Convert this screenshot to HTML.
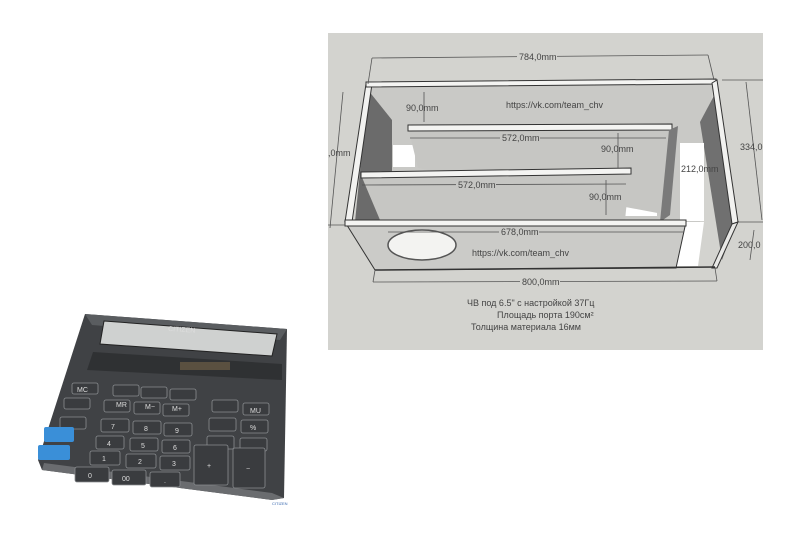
<!DOCTYPE html>
<html><head><style>
html,body{margin:0;padding:0;background:#fff;width:800px;height:533px;overflow:hidden}
svg{display:block}
text{font-family:"Liberation Sans","DejaVu Sans",sans-serif}
</style></head><body>
<svg width="800" height="533" viewBox="0 0 800 533">
<rect x="328" y="33" width="435" height="317" fill="#d3d3cf"/>
<polygon points="368,86 713,83 700,222 355,222" fill="#c9c9c6"/>
<polygon points="368,90 392,120 392,222 355,222" fill="#6b6b6b"/>
<polygon points="700,122 716,92 736,222 722,260" fill="#707070"/>
<rect x="393" y="145" width="22" height="22" fill="#fff"/>
<rect x="625" y="180" width="32" height="36" fill="#fff"/>
<rect x="680" y="143" width="24" height="78" fill="#fff"/>
<polygon points="682,222 704,222 698,266 674,266" fill="#fff"/>
<polygon points="408,127 671,125 668,215 418,168" fill="#c6c6c3"/>
<polygon points="408,125 672,124 672,130 408,131" fill="#f4f4f2" stroke="#333" stroke-width="1"/>
<polygon points="669,130 678,126 670,215 660,222" fill="#7a7a7a"/>
<polygon points="361,175 630,172 625,220 380,220" fill="#c6c6c3"/>
<polygon points="361,172 631,168 631,174 361,178" fill="#f4f4f2" stroke="#333" stroke-width="1"/>
<polygon points="366,84 372,84 352,222 345,222" fill="#f2f2f0" stroke="#333" stroke-width="1"/>
<polygon points="366,82 716,79 716,84 366,87" fill="#f4f4f2" stroke="#333" stroke-width="1"/>
<polygon points="712,83 717,80 738,222 732,224" fill="#f2f2f0" stroke="#333" stroke-width="1"/>
<polygon points="732,224 738,222 717,268 712,268" fill="#e8e8e6" stroke="#333" stroke-width="1"/>
<polygon points="345,222 686,222 676,268 375,270" fill="#cbcbc8" stroke="#333" stroke-width="1"/>
<polygon points="345,220 686,220 686,226 345,226" fill="#f4f4f2" stroke="#333" stroke-width="1"/>
<line x1="375" y1="270" x2="715" y2="267" stroke="#333" stroke-width="1.5"/>
<ellipse cx="422" cy="245" rx="34" ry="15" fill="#f3f3f1" stroke="#555" stroke-width="1.5"/>
<g stroke="#555" stroke-width="0.8" fill="none">
<line x1="372" y1="58" x2="708" y2="55"/><line x1="372" y1="58" x2="368" y2="84"/><line x1="708" y1="55" x2="714" y2="80"/>
<line x1="373" y1="282" x2="717" y2="281"/><line x1="373" y1="282" x2="375" y2="270"/><line x1="717" y1="281" x2="715" y2="268"/>
<line x1="410" y1="138" x2="666" y2="138"/><line x1="362" y1="185" x2="626" y2="184"/>
<line x1="388" y1="232" x2="684" y2="232"/>
<line x1="343" y1="92" x2="330" y2="228"/><line x1="746" y1="82" x2="762" y2="220"/><line x1="754" y1="230" x2="750" y2="260"/>
<line x1="424" y1="92" x2="424" y2="122"/><line x1="618" y1="133" x2="618" y2="168"/><line x1="606" y1="180" x2="606" y2="215"/>
<line x1="722" y1="80" x2="763" y2="80"/><line x1="328" y1="225" x2="345" y2="225"/><line x1="738" y1="222" x2="763" y2="222"/>
</g>
<g font-size="9" fill="#444">
<rect x="517" y="52" width="40" height="10" fill="#d3d3cf"/><text x="519" y="60">784,0mm</text>
<rect x="520" y="277" width="40" height="10" fill="#d3d3cf"/><text x="522" y="285">800,0mm</text>
<rect x="500" y="133" width="40" height="10" fill="#c6c6c3"/><text x="502" y="141">572,0mm</text>
<rect x="456" y="180" width="40" height="10" fill="#c6c6c3"/><text x="458" y="188">572,0mm</text>
<rect x="499" y="227" width="40" height="10" fill="#cbcbc8"/><text x="501" y="235">678,0mm</text>
<text x="406" y="111">90,0mm</text>
<text x="601" y="152">90,0mm</text>
<text x="589" y="200">90,0mm</text>
<text x="506" y="108">https://vk.com/team_chv</text>
<text x="472" y="256">https://vk.com/team_chv</text>
<text x="681" y="172">212,0mm</text>
<text x="328" y="156">,0mm</text>
<text x="740" y="150">334,0</text>
<text x="738" y="248">200,0</text>
<text x="467" y="306">ЧВ под 6.5" с настройкой 37Гц</text>
<text x="497" y="318">Площадь порта 190см²</text>
<text x="471" y="330">Толщина материала 16мм</text>
</g>
<!-- calculator -->
<polygon points="85,314 287,329 284,498 272,500 42,470 38,460" fill="#404245"/>
<polygon points="42,470 272,500 284,498 272,493 44,463" fill="#6a6c6f"/>
<polygon points="85,314 287,329 280,340 92,325" fill="#5a5d60"/>
<polygon points="104,321 277,334 272,356 100,344" fill="#cfd1d0" stroke="#222"/>
<text x="168" y="331" font-size="7" fill="#ddd" transform="rotate(4 170 331)">CITIZEN</text>
<polygon points="93,352 282,364 282,380 87,370" fill="#2f3133"/>
<rect x="180" y="362" width="50" height="8" fill="#5a5040"/>
<g fill="#3a3c3f" stroke="#8a8d90" stroke-width="0.8">
<rect x="72" y="383" width="26" height="11" rx="2"/><rect x="113" y="385" width="26" height="11" rx="2"/><rect x="141" y="387" width="26" height="11" rx="2"/><rect x="170" y="389" width="26" height="11" rx="2"/>
<rect x="64" y="398" width="26" height="11" rx="2"/><rect x="104" y="400" width="26" height="12" rx="2"/><rect x="134" y="402" width="26" height="12" rx="2"/><rect x="163" y="404" width="26" height="12" rx="2"/><rect x="212" y="400" width="26" height="12" rx="2"/><rect x="243" y="403" width="26" height="12" rx="2"/>
<rect x="60" y="417" width="26" height="12" rx="2"/><rect x="101" y="419" width="28" height="13" rx="2"/><rect x="133" y="421" width="28" height="13" rx="2"/><rect x="164" y="423" width="28" height="13" rx="2"/><rect x="209" y="418" width="27" height="13" rx="2"/><rect x="241" y="420" width="27" height="13" rx="2"/>
<rect x="96" y="436" width="28" height="13" rx="2"/><rect x="130" y="438" width="28" height="13" rx="2"/><rect x="162" y="440" width="28" height="13" rx="2"/><rect x="207" y="436" width="27" height="13" rx="2"/><rect x="240" y="438" width="27" height="13" rx="2"/>
<rect x="90" y="451" width="30" height="14" rx="2"/><rect x="126" y="454" width="30" height="14" rx="2"/><rect x="160" y="456" width="30" height="14" rx="2"/>
<rect x="75" y="467" width="34" height="15" rx="2"/><rect x="112" y="470" width="34" height="15" rx="2"/><rect x="150" y="472" width="30" height="15" rx="2"/>
<rect x="194" y="445" width="34" height="40" rx="2"/><rect x="233" y="448" width="32" height="40" rx="2"/>
</g>
<g font-size="7" fill="#ddd">
<text x="77" y="392">MC</text><text x="116" y="407">MR</text><text x="145" y="409">M−</text><text x="172" y="411">M+</text>
<text x="111" y="429">7</text><text x="144" y="431">8</text><text x="175" y="433">9</text>
<text x="107" y="446">4</text><text x="141" y="448">5</text><text x="173" y="450">6</text>
<text x="102" y="461">1</text><text x="138" y="464">2</text><text x="172" y="466">3</text>
<text x="88" y="478">0</text><text x="122" y="481">00</text><text x="164" y="483">.</text>
<text x="207" y="468">+</text><text x="246" y="471">−</text><text x="250" y="413">MU</text><text x="250" y="430">%</text>
</g>
<rect x="44" y="427" width="30" height="15" rx="2" fill="#3a8fd8"/>
<rect x="38" y="445" width="32" height="15" rx="2" fill="#3a8fd8"/>
<text x="272" y="505" font-size="4" fill="#3a6ab0">CITIZEN</text>
</svg>
</body></html>
